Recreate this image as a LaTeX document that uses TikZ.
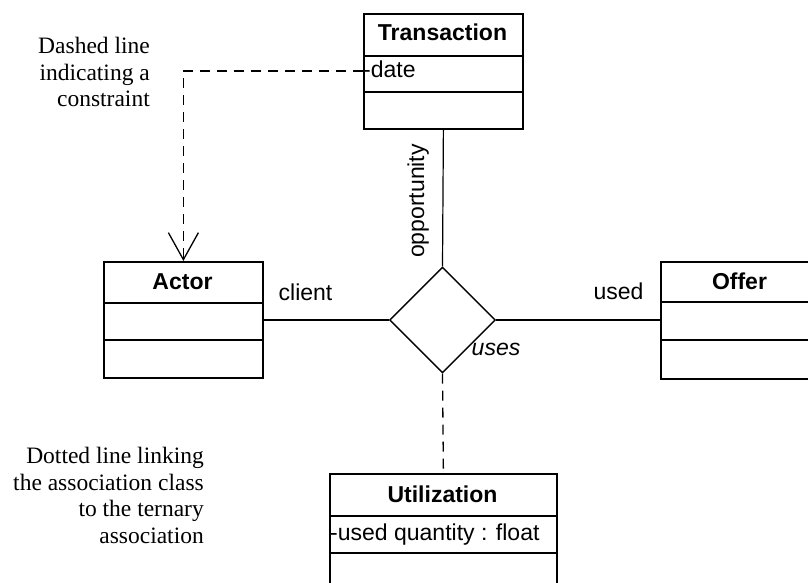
\documentclass[tikz,border=0pt]{standalone}
\usepackage{fontspec}
\setmainfont{Liberation Serif}
\setsansfont{Liberation Sans}
\usetikzlibrary{shapes.geometric,arrows.meta}
\begin{document}
\begin{tikzpicture}[x=1pt,y=-1pt,
  classbox/.style={draw, line width=1.8pt, inner sep=0pt, anchor=north west},
  sepline/.style={line width=1.8pt},
  classname/.style={font=\sffamily\bfseries\fontsize{23}{27}\selectfont, inner sep=0pt, anchor=base},
  attrtext/.style={font=\sffamily\fontsize{23}{27}\selectfont, inner sep=0pt, anchor=base west},
  rolelabel/.style={font=\sffamily\fontsize{23}{27}\selectfont, inner sep=0pt, anchor=base},
  note/.style={font=\fontsize{23.5}{26.5}\selectfont, align=right, inner sep=0pt, anchor=north east},
  assocline/.style={line width=1.2pt},
  dashedline/.style={line width=1.3pt, dash pattern=on 10pt off 7pt},
]
\path[use as bounding box, clip] (0,0) rectangle (808,583);
\fill[white] (0,0) rectangle (808,583);

% Transaction class
\node[classbox, minimum width=159pt, minimum height=115pt] (trans) at (363,13) {};
\draw[sepline] ([yshift=-43pt]trans.north west) -- ([yshift=-43pt]trans.north east);
\draw[sepline] ([yshift=-79pt]trans.north west) -- ([yshift=-79pt]trans.north east);
\node[classname] (transname) at (442.5,41) {Transaction};
\node[attrtext] (transattr) at (363,78) {-date};

% Actor class
\node[classbox, minimum width=159pt, minimum height=116pt] (actor) at (103,261) {};
\draw[sepline] ([yshift=-42pt]actor.north west) -- ([yshift=-42pt]actor.north east);
\draw[sepline] ([yshift=-79pt]actor.north west) -- ([yshift=-79pt]actor.north east);
\node[classname] (actorname) at (182.5,289) {Actor};

% Offer class (runs past the right border)
\node[classbox, minimum width=159pt, minimum height=117pt] (offer) at (660,261) {};
\draw[sepline] ([yshift=-41pt]offer.north west) -- ([yshift=-41pt]offer.north east);
\draw[sepline] ([yshift=-79pt]offer.north west) -- ([yshift=-79pt]offer.north east);
\node[classname] (offername) at (739.5,289) {Offer};

% Utilization association class (runs past the bottom border)
\node[classbox, minimum width=227pt, minimum height=116pt] (util) at (329,473) {};
\draw[sepline] ([yshift=-43pt]util.north west) -- ([yshift=-43pt]util.north east);
\draw[sepline] ([yshift=-80pt]util.north west) -- ([yshift=-80pt]util.north east);
\node[classname] (utilname) at (442.5,502) {Utilization};
\node[attrtext] (utilattr) at (330,540) {-used quantity : float};

% Ternary association diamond
\node[diamond, draw, line width=1.4pt, minimum width=106pt, minimum height=106pt, aspect=1, inner sep=0pt] (assoc) at (442.5,320) {};

% Association ends
\draw[assocline] (trans.south) -- (assoc.north);
\draw[assocline] (assoc.west) -- (assoc.west -| actor.east);
\draw[assocline] (assoc.east) -- (assoc.east -| offer.west);
\draw[dashedline] (assoc.south) -- (util.north);

% Constraint dependency
\coordinate (dateW) at (363,71);
\draw[dashedline, -{Straight Barb[length=27pt, width=30pt, line width=1.3pt]}] (dateW) -| (actor.north);

% Role and association labels
\node[rolelabel, rotate=90] (opplbl) at (424,201) {opportunity};
\node[rolelabel] (clientlbl) at (305.5,300) {client};
\node[rolelabel] (usedlbl) at (618.5,299) {used};
\node[rolelabel, font=\sffamily\itshape\fontsize{23}{27}\selectfont] (useslbl) at (496,355) {uses};

% Notes
\node[note] (dashnote) at (150,37) {Dashed line\\indicating a\\constraint};
\node[note] (dotnote) at (204,447) {Dotted line linking\\the association class\\to the ternary\\association};
\end{tikzpicture}
\end{document}
